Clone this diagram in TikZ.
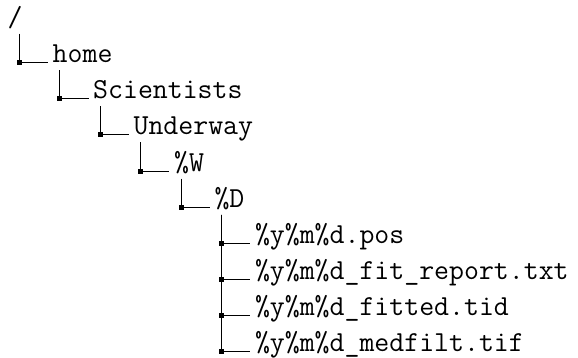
\documentclass[tikz,border=0pt]{standalone}
\usepackage{fontspec}
\begin{document}
\begin{tikzpicture}[x=1pt,y=-1pt,
  entry/.style={anchor=base west, inner sep=0pt, font=\fontsize{29}{34}\selectfont\ttfamily},
  branch/.style={line width=1pt, black},
  knot/.style={rectangle, fill=black, minimum size=5pt, inner sep=0pt}]
\useasboundingbox (0,0) rectangle (578,357);

% directory entries, one per row
\node[entry] (root) at (7.5,26.5)   {/};
\node[entry] (home) at (52.5,62.6)  {home};
\node[entry] (sci)  at (93,98.8)    {Scientists};
\node[entry] (uw)   at (133.4,134.9){Underway};
\node[entry] (wk)   at (173.9,171.0){\%W};
\node[entry] (dy)   at (214.3,207.2){\%D};
\node[entry] (f1)   at (254.8,243.3){\%y\%m\%d.pos};
\node[entry] (f2)   at (254.8,279.4){\%y\%m\%d\_fit\_report.txt};
\node[entry] (f3)   at (254.8,315.6){\%y\%m\%d\_fitted.tid};
\node[entry] (f4)   at (254.8,351.7){\%y\%m\%d\_medfilt.tif};

% tree branches with a small square at each corner
\draw[branch] ([xshift=12pt,yshift=-7pt]root.base west) |- node[knot,pos=0.5]{} ([xshift=-4.5pt]home.base west);
\draw[branch] ([xshift=7.45pt,yshift=-7.5pt]home.base west) |- node[knot,pos=0.5]{} ([xshift=-4.5pt]sci.base west);
\draw[branch] ([xshift=7.45pt,yshift=-7.5pt]sci.base west) |- node[knot,pos=0.5]{} ([xshift=-4.5pt]uw.base west);
\draw[branch] ([xshift=7.45pt,yshift=-7.5pt]uw.base west) |- node[knot,pos=0.5]{} ([xshift=-4.5pt]wk.base west);
\draw[branch] ([xshift=7.45pt,yshift=-7.5pt]wk.base west) |- node[knot,pos=0.5]{} ([xshift=-4.5pt]dy.base west);
\foreach \f in {f1,f2,f3,f4}
  \draw[branch] ([xshift=7.45pt,yshift=-7.5pt]dy.base west) |- node[knot,pos=0.5]{} ([xshift=-4.5pt]\f.base west);
\end{tikzpicture}
\end{document}
